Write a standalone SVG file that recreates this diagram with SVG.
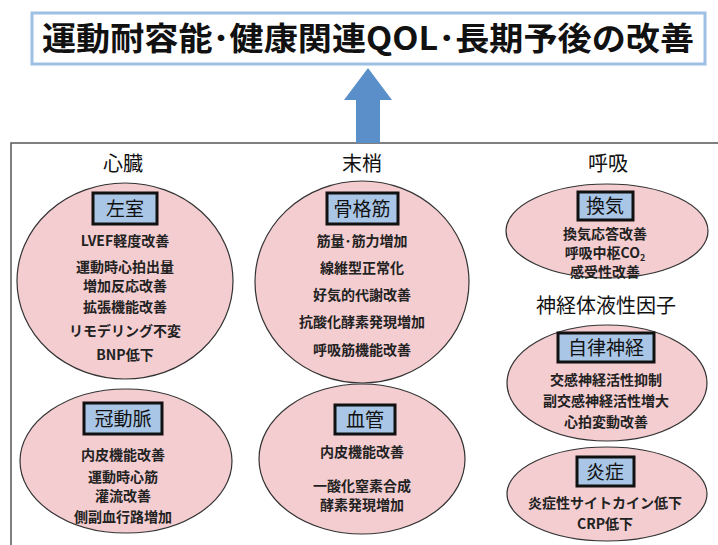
<svg xmlns="http://www.w3.org/2000/svg" width="718" height="545" viewBox="0 0 718 545">
<style>
.jp{font-family:"Noto Sans CJK JP","Noto Sans",sans-serif;}
.title{font-size:32px;font-weight:bold;fill:#111;text-anchor:middle;}
.head{font-size:20px;fill:#111;text-anchor:middle;}
.lbl{font-size:19px;fill:#111;text-anchor:middle;}
.t{font-size:14px;font-weight:bold;fill:#222;text-anchor:middle;}
.ell{fill:#f4cdd0;stroke:#333;stroke-width:1.2;}
.box{fill:#a9c6e6;stroke:#111;stroke-width:3;}
</style>
<rect width="718" height="545" fill="#ffffff"/>
<g id="title">
<rect x="32" y="13" width="673" height="51" fill="#ffffff" stroke="#9dc0e4" stroke-width="3"/>
<text class="jp title" x="368" y="50" textLength="652" lengthAdjust="spacingAndGlyphs">運動耐容能･健康関連QOL･長期予後の改善</text>
</g>
<g id="frame">
<rect x="11" y="143" width="720" height="420" fill="none" stroke="#555" stroke-width="1.5"/>
</g>
<g id="connectors">
<polygon points="368,68 392,100 380,100 380,143 356,143 356,100 344,100" fill="#5b8fc9"/>
</g>
<g id="headings">
<text class="jp head" x="123" y="171">心臓</text>
<text class="jp head" x="362" y="171">末梢</text>
<text class="jp head" x="608" y="171">呼吸</text>
<text class="jp head" x="606" y="313">神経体液性因子</text>
</g>
<g id="lv">
<ellipse class="ell" cx="125" cy="281" rx="108" ry="98"/>
<rect class="box" x="93" y="193" width="64" height="31"/>
<text class="jp lbl" x="125" y="216">左室</text>
<text class="jp t" x="125" y="246">LVEF軽度改善</text>
<text class="jp t" x="125" y="272">運動時心拍出量</text>
<text class="jp t" x="125" y="291">増加反応改善</text>
<text class="jp t" x="125" y="312">拡張機能改善</text>
<text class="jp t" x="125" y="336">リモデリング不変</text>
<text class="jp t" x="125" y="360">BNP低下</text>
</g>
<g id="coronary">
<ellipse class="ell" cx="126" cy="461" rx="106" ry="72"/>
<rect class="box" x="84" y="403" width="78" height="31"/>
<text class="jp lbl" x="123" y="426">冠動脈</text>
<text class="jp t" x="123" y="460">内皮機能改善</text>
<text class="jp t" x="123" y="482">運動時心筋</text>
<text class="jp t" x="123" y="501">灌流改善</text>
<text class="jp t" x="123" y="522">側副血行路増加</text>
</g>
<g id="skeletal">
<ellipse class="ell" cx="362" cy="282" rx="107" ry="101"/>
<rect class="box" x="327" y="193" width="71" height="31"/>
<text class="jp lbl" x="362" y="216">骨格筋</text>
<text class="jp t" x="362" y="246">筋量･筋力増加</text>
<text class="jp t" x="362" y="273">線維型正常化</text>
<text class="jp t" x="362" y="300">好気的代謝改善</text>
<text class="jp t" x="362" y="327">抗酸化酵素発現増加</text>
<text class="jp t" x="362" y="355">呼吸筋機能改善</text>
</g>
<g id="vessel">
<ellipse class="ell" cx="362" cy="459" rx="103" ry="75"/>
<rect class="box" x="335" y="405" width="60" height="29"/>
<text class="jp lbl" x="365" y="427">血管</text>
<text class="jp t" x="362" y="457">内皮機能改善</text>
<text class="jp t" x="362" y="491">一酸化窒素合成</text>
<text class="jp t" x="362" y="510">酵素発現増加</text>
</g>
<g id="ventilation">
<ellipse class="ell" cx="607" cy="231" rx="101" ry="47"/>
<rect class="box" x="578" y="192" width="55" height="28"/>
<text class="jp lbl" x="605" y="213">換気</text>
<text class="jp t" x="605" y="239">換気応答改善</text>
<text class="jp t" x="605" y="258">呼吸中枢CO<tspan font-size="9" dy="3">2</tspan></text>
<text class="jp t" x="605" y="277">感受性改善</text>
</g>
<g id="autonomic">
<ellipse class="ell" cx="607" cy="383" rx="100" ry="58"/>
<rect class="box" x="558" y="333" width="96" height="29"/>
<text class="jp lbl" x="606" y="355">自律神経</text>
<text class="jp t" x="606" y="385">交感神経活性抑制</text>
<text class="jp t" x="606" y="406">副交感神経活性増大</text>
<text class="jp t" x="606" y="427">心拍変動改善</text>
</g>
<g id="inflammation">
<ellipse class="ell" cx="607" cy="494" rx="100" ry="47"/>
<rect class="box" x="577" y="457" width="57" height="29"/>
<text class="jp lbl" x="605" y="479">炎症</text>
<text class="jp t" x="605" y="508">炎症性サイトカイン低下</text>
<text class="jp t" x="605" y="529">CRP低下</text>
</g>
</svg>
